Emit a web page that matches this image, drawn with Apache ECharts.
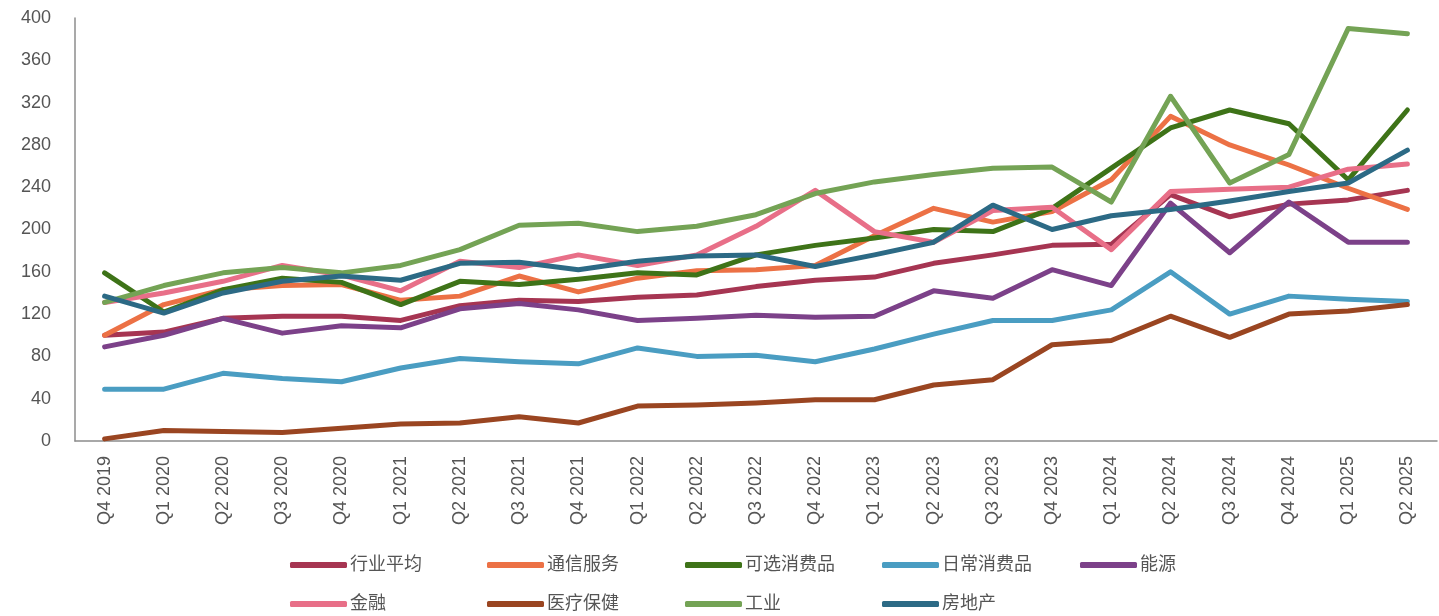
<!DOCTYPE html>
<html><head><meta charset="utf-8">
<script src="https://cdn.jsdelivr.net/npm/echarts@6/dist/echarts.min.js"></script>
<style>html,body{margin:0;padding:0;background:#fff}#c{width:1439px;height:616px}</style>
</head><body><div id="c"></div>
<script>
const categories = ['Q4 2019','Q1 2020','Q2 2020','Q3 2020','Q4 2020','Q1 2021','Q2 2021','Q3 2021','Q4 2021','Q1 2022','Q2 2022','Q3 2022','Q4 2022','Q1 2023','Q2 2023','Q3 2023','Q4 2023','Q1 2024','Q2 2024','Q3 2024','Q4 2024','Q1 2025','Q2 2025'];
const industryAvg   = [100,103,116,118,118,114,128,133,132,136,138,146,152,155,168,176,185,186,233,212,224,228,237];
const telecom       = [100,129,143,147,148,133,137,156,141,154,161,162,166,194,220,207,217,247,307,280,261,239,219];
const discretionary = [159,122,143,154,150,129,151,148,153,159,157,176,185,192,200,198,220,258,296,313,300,247,313];
const staples       = [49,49,64,59,56,69,78,75,73,88,80,81,75,87,101,114,114,124,160,120,137,134,132];
const energy        = [89,100,116,102,109,107,125,130,124,114,116,119,117,118,142,135,162,147,225,178,226,188,188];
const finance       = [131,140,151,166,157,142,170,164,176,166,176,203,237,198,188,218,221,181,236,238,240,257,262];
const healthcare    = [2,10,9,8,12,16,17,23,17,33,34,36,39,39,53,58,91,95,118,98,120,123,129];
const industrials   = [131,147,159,164,159,166,181,204,206,198,203,214,234,245,252,258,259,226,326,244,271,390,385];
const realEstate    = [137,121,140,151,156,152,168,169,162,170,175,176,165,176,188,223,200,213,219,227,236,244,275];
const yTicks = [0,40,80,120,160,200,240,280,320,360,400];

const seriesDefs = [
  ['行业平均', industryAvg, '#A63552'],
  ['通信服务', telecom, '#EC7145'],
  ['可选消费品', discretionary, '#3E7318'],
  ['日常消费品', staples, '#4A9DC2'],
  ['能源', energy, '#7C4189'],
  ['金融', finance, '#E86F88'],
  ['医疗保健', healthcare, '#9A4521'],
  ['工业', industrials, '#74A355'],
  ['房地产', realEstate, '#2C6A85']
];
const FONT = '"Liberation Sans", "Noto Sans CJK SC", sans-serif';
const TXT = '#555555';
// legend laid out in 5 columns, two rows (column-major pairs)
const legendColumns = [['行业平均','金融'], ['通信服务','医疗保健'], ['可选消费品','工业'], ['日常消费品','房地产'], ['能源']];
const colLeft = [290, 487, 685, 882, 1080];
const legends = legendColumns.map((data, i) => ({
  left: colLeft[i], top: 555, orient: 'vertical', icon: 'roundRect',
  itemWidth: 57, itemHeight: 6, itemGap: 19, padding: 0, data,
  textStyle: { fontFamily: FONT, fontSize: 18, color: TXT, padding: [0,0,0,-2], lineHeight: 20 }
}));
const chart = echarts.init(document.getElementById('c'));
chart.setOption({
  animation: false,
  grid: { left: 75, right: 2, top: 18, bottom: 175, containLabel: false },
  legend: legends,
  xAxis: {
    type: 'category', data: categories, boundaryGap: true,
    axisLine: { lineStyle: { color: '#8c8c8c', width: 1.5 } },
    axisTick: { show: false },
    axisLabel: { rotate: 90, interval: 0, margin: 15, fontFamily: FONT, fontSize: 18, color: TXT }
  },
  yAxis: {
    type: 'value', min: 0, max: 400, interval: 40,
    axisLine: { show: true, lineStyle: { color: '#8c8c8c', width: 1.5 } },
    axisTick: { show: false },
    splitLine: { show: false },
    axisLabel: { margin: 24, fontFamily: FONT, fontSize: 18, color: TXT,
      formatter: v => yTicks.includes(v) ? String(v) : '' }
  },
  series: seriesDefs.map(([name, data, color]) => ({
    name, type: 'line', data, symbol: 'none', color,
    lineStyle: { width: 5, color, cap: 'round', join: 'round' }
  }))
});
</script></body></html>
